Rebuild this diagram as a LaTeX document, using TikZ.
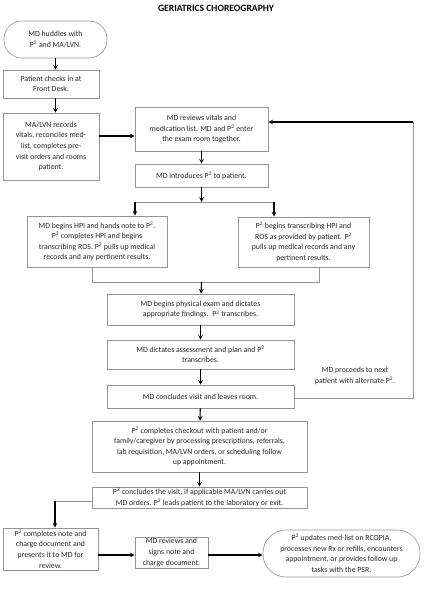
\documentclass[tikz,border=0pt]{standalone}
\usepackage{fontspec}
\setmainfont{Carlito}
\usetikzlibrary{arrows}

\newcommand{\Ptwo}{P\textsuperscript{2}}
\newcommand{\boxfont}{\fontsize{7.8}{10.6}\selectfont}

\tikzstyle{stepbox} = [draw=gray!85,line width=0.6pt,align=center,inner sep=1pt,font=\boxfont,text=black!85]
\tikzstyle{endbox} = [stepbox]
\tikzstyle{note} = [align=center,font=\boxfont,text=black!85]
\tikzstyle{arrowdecorate} = [->,>=stealth,line width=1.1pt]
\tikzstyle{joinline} = [draw=gray!85,line width=0.6pt]

\begin{document}
\begin{tikzpicture}[x=1pt,y=-1pt]
      \useasboundingbox (0,0) rectangle (431,599);
      \node[font=\fontsize{9.6}{11}\selectfont\bfseries] (title) at (216,8) {GERIATRICS CHOREOGRAPHY};
      %start and end
      \node[endbox, rounded corners=18pt, minimum width=103pt, minimum height=37pt] (huddle) at (55.5,39.5)
        {MD huddles with\\ \Ptwo{} and MA/LVN.};
      \node[endbox, rounded corners=23pt, minimum width=157pt, minimum height=47pt] (update) at (341.5,553.5)
        {\Ptwo{} updates med-list on RCOPIA,\\ processes new Rx or refills, encounters\\ appointment, or provides follow up\\ tasks with the PSR.};
      %steps
      \foreach \nodename/\x/\y/\w/\h/\txt in {
        checkin/51/84/96/28/{Patient checks in at\\ Front Desk.},
        record/51/146.5/96/67/{MA/LVN records\\ vitals, reconciles med-\\ list, completes pre-\\ visit orders and rooms\\ patient.},
        review/201.5/129/133/44/{MD reviews vitals and\\ medication list. MD and \Ptwo{} enter\\ the exam room together.},
        introduce/201.5/175.5/133/23/{MD introduces \Ptwo{} to patient.},
        hpi/97/241.5/140/51/{MD begins HPI and hands note to \Ptwo.\\ \Ptwo{} completes HPI and begins\\ transcribing ROS. \Ptwo{} pulls up medical\\ records and any pertinent results.},
        transcribe/303.5/242/131/50/{\Ptwo{} begins transcribing HPI and\\ ROS as provided by patient. \Ptwo\\ pulls up medical records and any\\ pertinent results.},
        exam/200.5/309.5/187/31/{MD begins physical exam and dictates\\ appropriate findings.\ \ \Ptwo{} transcribes.},
        plan/200.5/354.5/187/29/{MD dictates assessment and plan and \Ptwo\\ transcribes.},
        conclude/200.5/396.5/187/23/{MD concludes visit and leaves room.},
        checkout/199.5/446.5/215/51/{\Ptwo{} completes checkout with patient and/or\\ family/caregiver by processing prescriptions, referrals,\\ lab requisition, MA/LVN orders, or scheduling follow\\ up appointment.},
        leave/199.5/497.5/215/21/{\Ptwo{} concludes the visit, if applicable MA/LVN carries out\\ MD orders. \Ptwo{} leads patient to the laboratory or exit.},
        signoff/50.5/549/95/42/{\Ptwo{} completes note and\\ charge document and\\ presents it to MD for\\ review.},
        sign/171.5/552.5/73/31/{MD reviews and\\ signs note and\\ charge document.}}
      {
        \node[stepbox, minimum width=\w pt, minimum height=\h pt] (\nodename) at (\x,\y) {\txt};
      };
      \node[note] (nextlabel) at (355,376) {MD proceeds to next\\ patient with alternate \Ptwo.};
      %junctions
      \coordinate (split) at (201.5,202);
      \coordinate (sl) at (135,202);
      \coordinate (sr) at (274,202);
      \coordinate (jl) at (92,282);
      \coordinate (jr) at (319,282);
      \coordinate (jm) at (201.5,282);
      \coordinate (fb) at (413,122);
      \coordinate (fbb) at (413,398);
      \coordinate (lv) at (55,501);
      \coordinate (rowa) at (0,136);
      \coordinate (rowb) at (0,555);
      %edges
      \draw[arrowdecorate] (huddle.south) -- (huddle.south |- checkin.north);
      \draw[arrowdecorate] (checkin.south -| huddle.south) -- (huddle.south |- record.north);
      \draw[arrowdecorate] (record.east |- rowa) -- (review.west |- rowa);
      \draw[arrowdecorate] (review) -- (introduce);
      \draw[arrowdecorate] (introduce) -- (split);
      \path[joinline] (sl) -- (sr);
      \draw[arrowdecorate] (sl) -- (sl |- hpi.north);
      \draw[arrowdecorate] (sr) -- (sr |- transcribe.north);
      \path[joinline] (jl |- hpi.south) -- (jl) -- (jr) -- (jr |- transcribe.south);
      \draw[arrowdecorate] (jm) -- (exam);
      \foreach \startnode/\endnode in {exam/plan, plan/conclude, conclude/checkout, checkout/leave}
      {
        \draw[arrowdecorate] (\startnode) -- (\endnode);
      };
      \path[joinline] (conclude.east |- fbb) -- (fbb) -- (fb);
      \draw[arrowdecorate] (fb) -- (fb -| review.east);
      \path[joinline] (leave.west |- lv) -- (lv);
      \draw[arrowdecorate] (lv) -- (lv |- signoff.north);
      \draw[arrowdecorate] (signoff.east |- rowb) -- (sign.west |- rowb);
      \draw[arrowdecorate] (sign.east |- rowb) -- (update.west |- rowb);
\end{tikzpicture}
\end{document}
